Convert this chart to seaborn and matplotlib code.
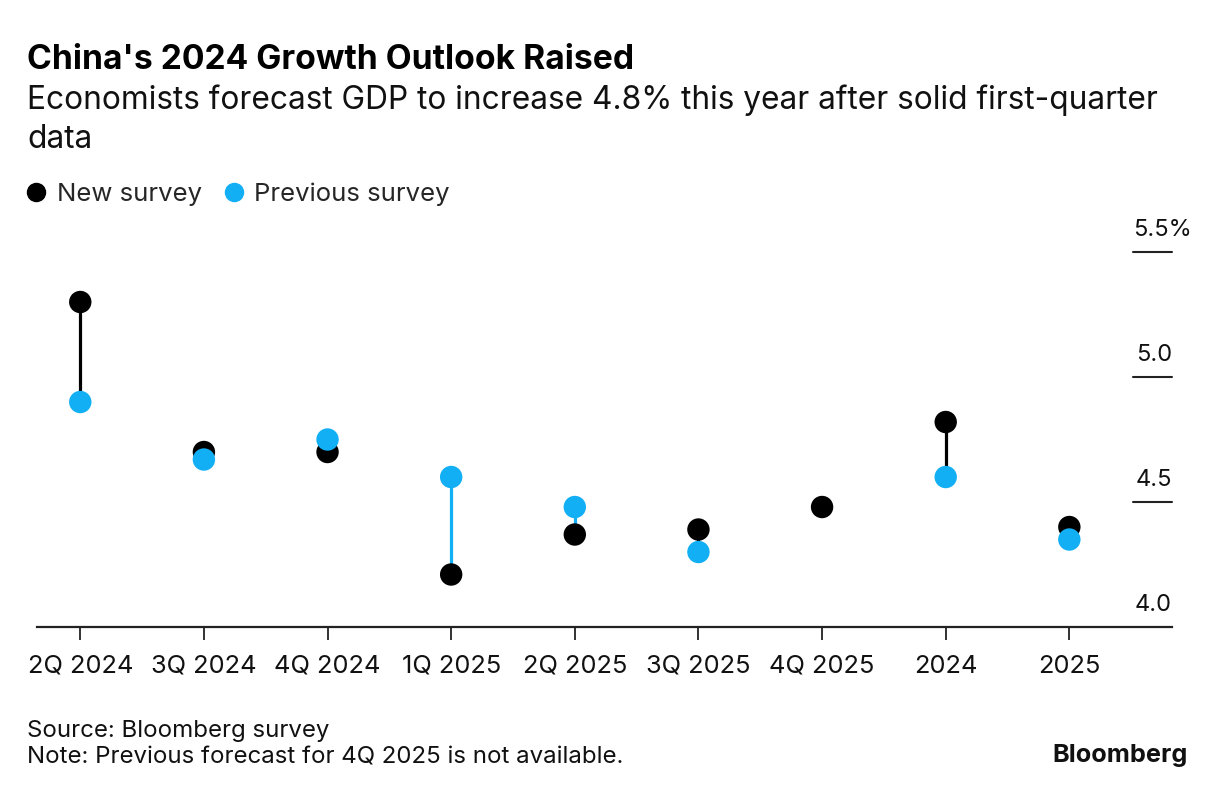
import numpy as np
import pandas as pd
import matplotlib
matplotlib.use("Agg")
import matplotlib.pyplot as plt
from matplotlib.lines import Line2D
import seaborn as sns

# dane
periods = ["2Q 2024", "3Q 2024", "4Q 2024", "1Q 2025", "2Q 2025",
           "3Q 2025", "4Q 2025", "2024", "2025"]
new_survey = [5.3, 4.70, 4.70, 4.21, 4.37, 4.39, 4.48, 4.82, 4.40]
prev_survey = [4.9, 4.67, 4.75, 4.60, 4.48, 4.30, np.nan, 4.60, 4.35]
y_ticks = [4.0, 4.5, 5.0, 5.5]
y_labels = ["4.0", "4.5", "5.0", "5.5%"]

BLACK = "#000000"
BLUE = "#12aff5"

sns.set_theme(style="white")
plt.rcParams["font.family"] = ["Inter", "DejaVu Sans"]

df = pd.DataFrame({
    "period": periods * 2,
    "value": new_survey + prev_survey,
    "survey": ["New survey"] * len(periods) + ["Previous survey"] * len(periods),
})

fig = plt.figure(figsize=(12.25, 7.94), dpi=100)
ax = fig.add_axes([0.0302, 0.2103, 0.9265, 0.5038])

# linie laczace - kolor tej serii, ktora jest wyzej
x_idx = np.arange(len(periods))
new_arr = np.array(new_survey)
prev_arr = np.array(prev_survey)
for i in x_idx:
    if np.isnan(prev_arr[i]):
        continue
    col = BLACK if new_arr[i] > prev_arr[i] else BLUE
    ax.vlines(i, min(new_arr[i], prev_arr[i]), max(new_arr[i], prev_arr[i]),
              color=col, lw=2.3, zorder=1)

sns.scatterplot(data=df.dropna(), x="period", y="value", hue="survey",
                palette={"New survey": BLACK, "Previous survey": BLUE},
                s=260, linewidth=0, legend=False, ax=ax, zorder=3)

ax.set_xlim(-0.35, 8.83)
ax.set_ylim(4.0, 5.6)
ax.set_xlabel("")
ax.set_ylabel("")
for side in ["top", "right", "left"]:
    ax.spines[side].set_visible(False)
ax.spines["bottom"].set_color("#222222")
ax.spines["bottom"].set_linewidth(1.6)
ax.tick_params(axis="x", bottom=True, direction="out", length=9, width=1.3,
               color="#222222", labelsize=18.3, pad=11, labelcolor="#111111")

# os y po prawej: krotkie kreski + etykiety nad nimi
ax.set_yticks([])
for v, lab in zip(y_ticks, y_labels):
    if v > 4.0:
        ax.plot([0.9655, 1.0], [v, v], transform=ax.get_yaxis_transform(),
                color="#222222", lw=1.5, clip_on=False)
    ax.text(1.0, v + 0.045, lab, transform=ax.get_yaxis_transform(),
            ha="right", va="bottom", fontsize=17, color="#111111")
# "%" wystaje poza krawedz
ax.texts[-1].set_ha("left")
ax.texts[-1].set_x(0.9655)

fig.text(0.022, 0.913, "China's 2024 Growth Outlook Raised", fontsize=24.2,
         fontweight="bold", color="#000000", va="baseline")
fig.text(0.022, 0.8627,
         "Economists forecast GDP to increase 4.8% this year after solid first-quarter",
         fontsize=22.8, color="#111111", va="baseline")
fig.text(0.022, 0.8136, "data", fontsize=22.8, color="#111111", va="baseline")

handles = [Line2D([], [], marker="o", ls="", color=BLACK, markersize=13),
           Line2D([], [], marker="o", ls="", color=BLUE, markersize=13)]
fig.legend(handles, ["New survey", "Previous survey"], loc="center left",
           bbox_to_anchor=(0.019, 0.7557), ncol=2, frameon=False, fontsize=18.5,
           handletextpad=0.3, columnspacing=0.75, handlelength=1.0,
           borderpad=0, borderaxespad=0)

fig.text(0.022, 0.0718, "Source: Bloomberg survey", fontsize=17.3, color="#111111",
         va="baseline")
fig.text(0.022, 0.0378, "Note: Previous forecast for 4Q 2025 is not available.",
         fontsize=17.3, color="#111111", va="baseline")
fig.text(0.970, 0.040, "Bloomberg", fontsize=18.2, fontweight="bold",
         ha="right", va="baseline", color="#111111")

fig.savefig("out.png", dpi=100, facecolor="white")
